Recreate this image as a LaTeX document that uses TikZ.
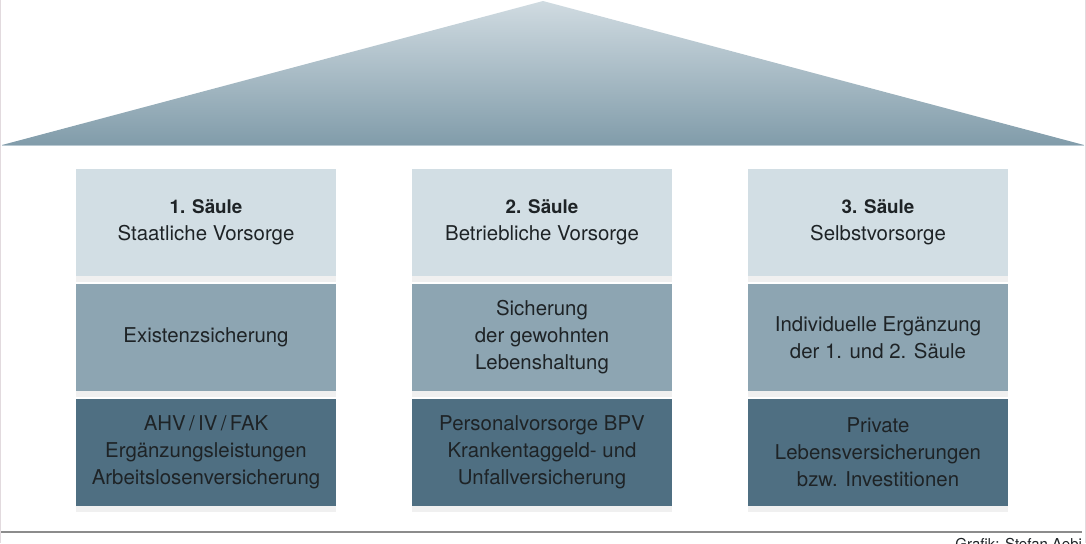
\documentclass[tikz,border=0pt]{standalone}
\usepackage{fontspec}
\setmainfont{TeX Gyre Heros}
\usetikzlibrary{chains,positioning,shadows}
\definecolor{roofTop}{HTML}{D0DBE1}
\definecolor{roofBot}{HTML}{819CAA}
\definecolor{rowA}{HTML}{D2DEE4}
\definecolor{rowB}{HTML}{8DA5B2}
\definecolor{rowC}{HTML}{4F6F82}
\definecolor{ink}{HTML}{1E2326}
\definecolor{rule}{HTML}{8C8C8C}
\definecolor{edge}{HTML}{E2DADE}
\newcommand{\pillarhead}[1]{{\fontsize{9.4}{13.5}\selectfont\bfseries #1}}

\begin{document}
\begin{tikzpicture}[x=0.5pt, y=-0.5pt,
node distance=4pt,
    P/.style = {rectangle, minimum width=130pt, minimum height=53.5pt,% pillar boxes
                outer sep=0pt, align=center, text=ink,
                font=\fontsize{10.2}{13.5}\selectfont,
                drop shadow={opacity=0.12, shadow xshift=0pt, shadow yshift=-3pt},
                on chain},
   R1/.style = {P, fill=rowA},
   R2/.style = {P, fill=rowB},
   R3/.style = {P, fill=rowC},
                        ]
\useasboundingbox (0,0) rectangle (1086,543);
% roof
\shade[top color=roofTop, bottom color=roofBot] (2,145) -- (543,1) -- (1084,145) -- cycle;
\draw[roofTop!70!roofBot, line width=0.5pt] (2,145) -- (1084,145);
% pillars
\foreach \n/\xc/\ta/\tb/\tc in {%
    A/206/{\pillarhead{1. Säule}\\Staatliche Vorsorge}/{Existenzsicherung}/{AHV\,/\,IV\,/\,FAK\\Ergänzungsleistungen\\Arbeitslosenversicherung},
    B/542/{\pillarhead{2. Säule}\\Betriebliche Vorsorge}/{Sicherung\\der gewohnten\\Lebenshaltung}/{Personalvorsorge BPV\\Krankentaggeld- und\\Unfallversicherung},
    C/878/{\pillarhead{3. Säule}\\Selbstvorsorge}/{Individuelle Ergänzung\\der 1. und 2. Säule}/{Private\\Lebensversicherungen\\bzw. Investitionen}}% <-- content of nodes
{
  \begin{scope}[start chain=going below]
    \node[R1] (\n-1) at (\xc,222.5) {\ta};
    \node[R2] (\n-2) {\tb};
    \node[R3] (\n-3) {\tc};
  \end{scope}
}
% ground line and credit
\coordinate (g1) at (0,532);
\coordinate (g2) at (1082,532);
\draw[rule, line width=1pt] (g1) -- (g2);
\draw[edge, line width=0.5pt] (0.5,0) -- (0.5,543) (1085,0) -- (1085,543);
\node[anchor=north west, inner sep=0pt, text=ink, font=\fontsize{7.5}{9}\selectfont] (credit) at (955,538) {Grafik: Stefan Aebi};
\end{tikzpicture}
\end{document}
